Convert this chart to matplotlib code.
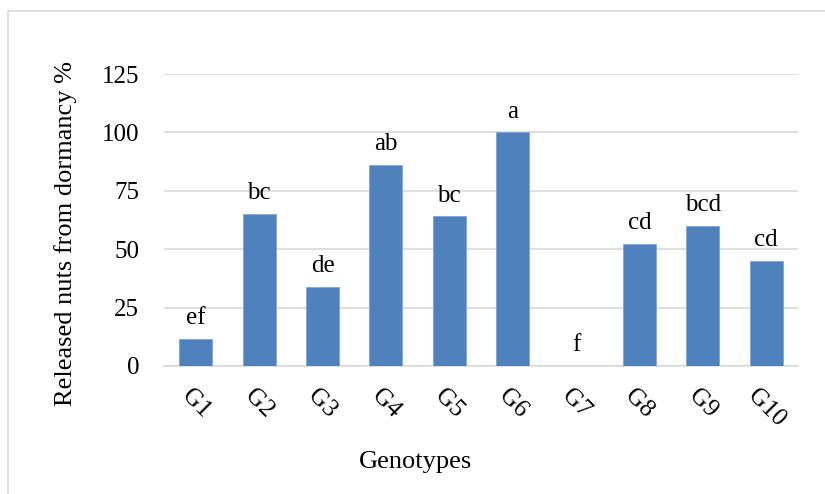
import matplotlib.pyplot as plt
from matplotlib.patches import Rectangle

genotypes = ["G1", "G2", "G3", "G4", "G5", "G6", "G7", "G8", "G9", "G10"]
released = [11.5, 65, 34, 86, 64, 100, 0, 52.3, 60, 45]
letters = ["ef", "bc", "de", "ab", "bc", "a", "f", "cd", "bcd", "cd"]

plt.rcParams['font.family'] = ['Liberation Serif', 'DejaVu Serif']

W, H = 825, 494
fig = plt.figure(figsize=(W / 100, H / 100), dpi=100)
# light frame around the chart, cut at the right and bottom like the original
fig.patches.append(Rectangle((8 / W, -0.1), 1.2, (H - 11) / H + 0.1,
                             transform=fig.transFigure, fill=False,
                             edgecolor='#d9d9d9', linewidth=1.2))

ax = fig.add_axes([164 / W, 1 - 366 / H, (798 - 164) / W, (366 - 74) / H])
x = range(len(genotypes))
ax.bar(x, released, width=0.52, color='#4f81bd', edgecolor='#7fa6d6',
       linewidth=0.6, zorder=3)

for i, (v, lab) in enumerate(zip(released, letters)):
    ax.annotate(lab, (i, v), xytext=(0, 7), textcoords='offset points',
                ha='center', va='bottom', fontsize=18)

ax.set_ylim(0, 125)
ax.set_xlim(-0.5, len(genotypes) - 0.5)
ax.set_yticks([0, 25, 50, 75, 100, 125])
ax.yaxis.grid(True, color='#d9d9d9', linewidth=1.2, zorder=0)
ax.set_xticks(list(x))
ax.set_xticklabels(genotypes, rotation=-45, ha='center', va='top')
ax.tick_params(axis='both', length=0, labelsize=18)
ax.tick_params(axis='y', pad=18)
ax.tick_params(axis='x', pad=14)
for s in ['top', 'right', 'left']:
    ax.spines[s].set_visible(False)
ax.spines['bottom'].set_color('#d9d9d9')
ax.spines['bottom'].set_linewidth(1.2)

fig.text(66 / W, 1 - 234 / H, "Released nuts from dormancy %", fontsize=19,
         rotation=90, ha='center', va='center')
fig.text(415 / W, 1 - 462 / H, "Genotypes", fontsize=19,
         ha='center', va='center')

fig.savefig("out.png", dpi=100)
